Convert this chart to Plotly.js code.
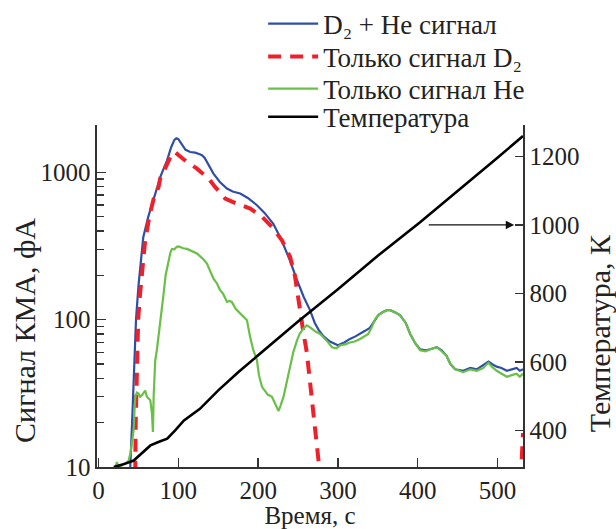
<!DOCTYPE html>
<html>
<head>
<meta charset="utf-8">
<script src="https://cdn.plot.ly/plotly-3.0.1.min.js"></script>
<style>html,body{margin:0;padding:0;background:#fff;}#chart{width:616px;height:529px;}</style>
</head>
<body>
<div id="chart"></div>
<script>
// ---- data ----
const totalT = [37, 39.7, 42, 44.5, 46.9, 50, 53, 56, 62.3, 71, 78, 85.7, 91, 95, 97.4, 100, 104, 109, 114.9, 121, 126, 129.6, 133, 137, 144, 152, 160.9, 168, 177.5, 187, 198.5, 208, 219, 229, 240, 248, 257, 265, 271, 276, 282, 290, 300, 308, 315, 322, 328, 334, 340, 346.7, 351, 357, 361.4, 365.5, 372, 378, 385, 390.6, 397, 403, 410, 415.6, 420, 424, 430, 436, 441, 447, 457, 466, 474, 482, 488.7, 493, 499, 505, 511.8, 518, 524, 528, 532];
const totalV = [9, 10, 20, 45, 100, 170, 250, 363, 500, 724, 950, 1200, 1480, 1660, 1700, 1680, 1560, 1420, 1374, 1360, 1330, 1306, 1250, 1150, 980, 860, 776, 740, 718, 670, 598, 530, 447, 350, 251, 190, 143, 116, 95, 85, 77, 71, 67, 70, 74, 77, 80, 84, 88, 101, 108, 113, 116, 116, 112, 107, 95, 80, 69, 63, 62, 63, 64, 65, 62, 57, 50, 46, 45, 47, 46, 49, 52, 50, 48, 47, 45, 46, 47, 45, 46];

const d2T = [45, 46, 46.5, 47.5, 48.5, 49.6, 52, 54.4, 58, 63.5, 69, 75.2, 77.3, 83, 87.7, 92, 94, 96, 100, 110.7, 123, 137.8, 146, 158.7, 173, 190, 204.7, 217, 229.8, 240, 246, 252.6, 257, 261, 265.5, 269.4, 273, 275.7, 278, 280, null, 529, 532];
const d2V = [9, 10, 20, 40, 70, 100, 150, 216, 330, 500, 660, 796, 912, 1050, 1211, 1343, 1374, 1370, 1310, 1175, 1062, 908, 796, 663, 613, 568, 500, 427, 346, 267, 200, 110, 80, 60, 36, 21, 14, 11, 9.5, 8, null, 8, 17];

const heT = [20, 23, 25, 28, 31, 34, 37.6, 40, 41.8, 43.9, 45, 46, 48, 50, 52, 54.4, 56.5, 58.5, 60.6, 62.5, 64.8, 66.9, 68.1, 69, 70, 71, 73, 75, 77.3, 79, 81.5, 84, 87.7, 90, 92, 95, 98, 100, 103, 106, 110.8, 115, 119, 123.3, 127, 131, 135.8, 140, 144, 148.4, 152, 156, 161, 164, 167, 172, 177.6, 182, 186, 190, 194, 198.5, 201, 204.8, 208, 212, 217.3, 221, 225.6, 228, 231.8, 236, 240.2, 244, 248.6, 252, 256, 261.1, 266, 272, 277.8, 286, 292.5, 298, 303, 309, 315, 321, 327.8, 333, 338, 342, 346.7, 351, 357, 361.4, 365.5, 372, 378, 385, 390.6, 397, 403, 410, 415.6, 420, 424, 430, 436, 441, 447, 457, 466, 474, 482, 488.7, 493, 499, 505, 511.8, 518, 524, 528, 532];
const heV = [9.5, 10.8, 9.8, 10.2, 10.5, 10.6, 11, 12.5, 14.5, 17.7, 24, 30, 32, 31.5, 30, 30.7, 32, 33, 30, 29, 28.4, 23, 17.3, 30, 45, 53, 62, 76, 89, 115, 150, 200, 253, 285, 302, 300, 312, 314, 310, 305, 302, 295, 290, 281, 270, 258, 240, 215, 190, 176, 160, 150, 132, 134, 132, 118, 110, 103, 99, 76, 62, 53, 42, 35, 33, 31, 30, 27, 24, 26, 30, 38, 48, 60, 72, 80, 86, 91.5, 88, 83, 80, 72, 65, 64, 67, 68, 70, 71, 74, 77, 80, 88, 101, 108, 113, 116, 116, 112, 107, 95, 80, 69, 62, 61, 63, 64, 65, 61, 57, 50, 46, 44, 46, 45, 47, 51, 48, 45, 43, 41, 42, 43, 41, 43];

const tempT = [19, 30, 44, 55, 65, 75, 86, 96, 107, 127, 150, 175, 200, 250, 300, 350, 403, 450, 500, 532];
const tempV = [293, 300, 312, 335, 356, 366, 376, 400, 429, 463, 517, 570, 620, 718, 812, 910, 1008, 1098, 1196, 1260];

const legendNames = ['D₂ + He сигнал', 'Только сигнал D₂', 'Только сигнал He', 'Температура'];
const signalTicks = [10, 100, 1000];
const signalTickText = ['10', '100', '1000'];
const signalMinorTicks = [20, 30, 40, 50, 60, 70, 80, 90, 200, 300, 400, 500, 600, 700, 800, 900];
const tempTicks = [400, 600, 800, 1000, 1200];
const timeTicks = [0, 100, 200, 300, 400, 500];

const FONT = 'Liberation Serif, Times New Roman, serif';

const traces = [
  {x: totalT, y: totalV, name: legendNames[0], legend: 'legend', mode: 'lines', line: {color: '#2f4fa6', width: 2.2}},
  {x: d2T, y: d2V, name: legendNames[1], legend: 'legend2', mode: 'lines', connectgaps: false, line: {color: '#f0202a', width: 4, dash: '13px,9px'}},
  {x: heT, y: heV, name: legendNames[2], legend: 'legend3', mode: 'lines', line: {color: '#6abf47', width: 2.2}},
  {x: tempT, y: tempV, name: legendNames[3], legend: 'legend4', mode: 'lines', yaxis: 'y2', line: {color: '#000000', width: 2.6}}
];

function legendAt(yPaper) {
  return {
    x: 0.39, y: yPaper, xanchor: 'left', yanchor: 'middle',
    font: {family: FONT, size: 27, color: '#222'},
    bgcolor: 'rgba(0,0,0,0)', borderwidth: 0, itemwidth: 50
  };
}

const layout = {
  width: 616, height: 529,
  margin: {l: 97, r: 93, t: 125, b: 62, autoexpand: false},
  paper_bgcolor: '#fff', plot_bgcolor: '#fff',
  font: {family: FONT, size: 25, color: '#222'},
  showlegend: true,
  legend: legendAt(1.295),
  legend2: legendAt(1.199),
  legend3: legendAt(1.105),
  legend4: legendAt(1.023),
  xaxis: {
    range: [-2, 532], tickvals: timeTicks, ticks: 'inside', ticklen: 9, tickwidth: 1.5, tickcolor: '#333',
    showline: true, linecolor: '#333', linewidth: 1.6, showgrid: false, zeroline: false,
    tickfont: {family: FONT, size: 25, color: '#222'},
    title: {text: 'Время, с', font: {family: FONT, size: 25, color: '#222'}, standoff: 7}
  },
  yaxis: {
    type: 'log', range: [1, 3.321], tickvals: signalTicks, ticktext: signalTickText,
    ticks: 'inside', ticklen: 9, tickwidth: 1.5, tickcolor: '#333',
    minor: {tickvals: signalMinorTicks, ticks: 'inside', ticklen: 7, tickwidth: 1.5, tickcolor: '#333', showgrid: false},
    showline: true, linecolor: '#333', linewidth: 1.6, showgrid: false, zeroline: false,
    tickfont: {family: FONT, size: 25, color: '#222'}
  },
  yaxis2: {
    overlaying: 'y', side: 'right', range: [293, 1292], tickvals: tempTicks,
    ticks: 'inside', ticklen: 8, tickwidth: 1.5, tickcolor: '#333',
    showline: true, linecolor: '#333', linewidth: 1.6, showgrid: false, zeroline: false,
    tickfont: {family: FONT, size: 25, color: '#222'}
  },
  annotations: [
    {xref: 'paper', yref: 'paper', x: -0.172, y: 0.40, text: 'Сигнал КМА, фА', textangle: -90,
     showarrow: false, xanchor: 'center', yanchor: 'middle', font: {family: FONT, size: 30, color: '#222'}},
    {xref: 'paper', yref: 'paper', x: 1.18, y: 0.39, text: 'Температура, К', textangle: -90,
     showarrow: false, xanchor: 'center', yanchor: 'middle', font: {family: FONT, size: 30, color: '#222'}},
    {xref: 'x', yref: 'y2', x: 521, y: 1000, axref: 'x', ayref: 'y2', ax: 412, ay: 1000, text: '',
     showarrow: true, arrowhead: 2, arrowsize: 1.3, arrowwidth: 1.3, arrowcolor: '#111', standoff: 0}
  ]
};

Plotly.newPlot('chart', traces, layout, {displayModeBar: false, staticPlot: true});
</script>
</body>
</html>
